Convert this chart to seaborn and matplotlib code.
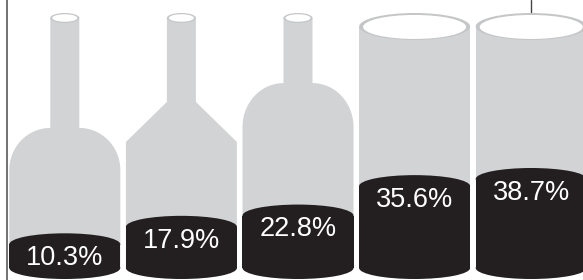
import numpy as np
import pandas as pd
import matplotlib
matplotlib.use('Agg')
import matplotlib.pyplot as plt
import seaborn as sns
from matplotlib.patches import Polygon, Ellipse

# data
items = ['Bottle A', 'Bottle B', 'Bottle C', 'Can A', 'Can B']
shares = [10.3, 17.9, 22.8, 35.6, 38.7]
share_labels = ['10.3%', '17.9%', '22.8%', '35.6%', '38.7%']

# container outlines (style only)
shapes = ['round', 'cone', 'round', 'can', 'can']
side_top = [42.6, 54.8, 61.3, 104.8, 104.8]   # where the straight sides stop
neck_base = [60.9, 72.2, 80.4, None, None]
NECK_TOP = 108.7

BLACK = '#231f20'
GRAY = '#d1d3d4'
RIM = '#c4c6c8'

W_PX, H_PX = 583, 280
PX_X = 116.6          # pixels per category step
PX_Y = 2.3            # pixels per percent

sns.set_style('white')
plt.rcParams['font.family'] = ['Liberation Sans', 'DejaVu Sans']

fig = plt.figure(figsize=(W_PX / 100, H_PX / 100), dpi=100)
left = 6.5 / W_PX
ax = fig.add_axes([left, 0, 1 - left, 1])

df = pd.DataFrame({'item': items, 'share': shares})
sns.barplot(data=df, x='item', y='share', color=BLACK, saturation=1,
            width=0.952, linewidth=0, ax=ax, zorder=3)

ax.set_xlim(-0.5, -0.5 + (W_PX - 6.5) / PX_X)
ax.set_ylim(-12 / PX_Y, 268 / PX_Y)

ell_h = 22 / PX_Y
nw = 14.5 / PX_X      # neck half-width

for i, bar in enumerate(ax.patches[:len(items)]):
    x0, w, h = bar.get_x(), bar.get_width(), bar.get_height()
    cx, hw = x0 + w / 2, w / 2

    # gray silhouette
    if shapes[i] == 'can':
        pts = [(cx - hw, 0), (cx - hw, side_top[i]),
               (cx + hw, side_top[i]), (cx + hw, 0)]
    else:
        sh, nb = side_top[i], neck_base[i]
        if shapes[i] == 'round':
            t = np.linspace(np.pi, np.pi / 2, 30)
            lx = (cx - nw) + (hw - nw) * np.cos(t)
            ly = sh + (nb - sh) * np.sin(t)
            left_arc = list(zip(lx, ly))
            right_arc = [(2 * cx - a, b) for a, b in left_arc[::-1]]
        else:
            left_arc = [(cx - hw, sh), (cx - nw, nb)]
            right_arc = [(cx + nw, nb), (cx + hw, sh)]
        pts = ([(cx - hw, 0)] + left_arc +
               [(cx - nw, NECK_TOP), (cx + nw, NECK_TOP)] +
               right_arc + [(cx + hw, 0)])
    ax.add_patch(Polygon(pts, closed=True, fc=GRAY, ec='none', zorder=1))

    # open tops
    if shapes[i] == 'can':
        ax.add_patch(Ellipse((cx, side_top[i] + 0.2), w, 27 / PX_Y,
                             fc=RIM, ec='none', zorder=2))
        ax.add_patch(Ellipse((cx, side_top[i]), w - 8 / PX_X, 24 / PX_Y,
                             fc='white', ec='none', zorder=2))
    else:
        ax.add_patch(Ellipse((cx, NECK_TOP), 2 * nw, 10 / PX_Y,
                             fc=RIM, ec='none', zorder=2))
        ax.add_patch(Ellipse((cx, NECK_TOP), 2 * nw - 4 / PX_X, 7.5 / PX_Y,
                             fc='white', ec='none', zorder=2))

    # liquid: cylinder caps
    ax.add_patch(Ellipse((cx, 0), w, ell_h, fc=BLACK, ec='none', zorder=3))
    ax.add_patch(Ellipse((cx, h), w, ell_h, fc=BLACK, ec='none', zorder=3))

    ax.text(cx, h - 6, share_labels[i], ha='center', va='center',
            color='white', fontsize=19.5, zorder=4)

# leader tick at the top right
ax.axvline(4, ymin=1 - 12 / H_PX, ymax=1, color='#444444', lw=1)

ax.set_xticks([])
ax.set_yticks([])
ax.set_xlabel('')
ax.set_ylabel('')
for s in ['top', 'right', 'bottom']:
    ax.spines[s].set_visible(False)
ax.spines['left'].set_color('#58595b')
ax.spines['left'].set_linewidth(1.2)

fig.savefig('out.png', dpi=100)
